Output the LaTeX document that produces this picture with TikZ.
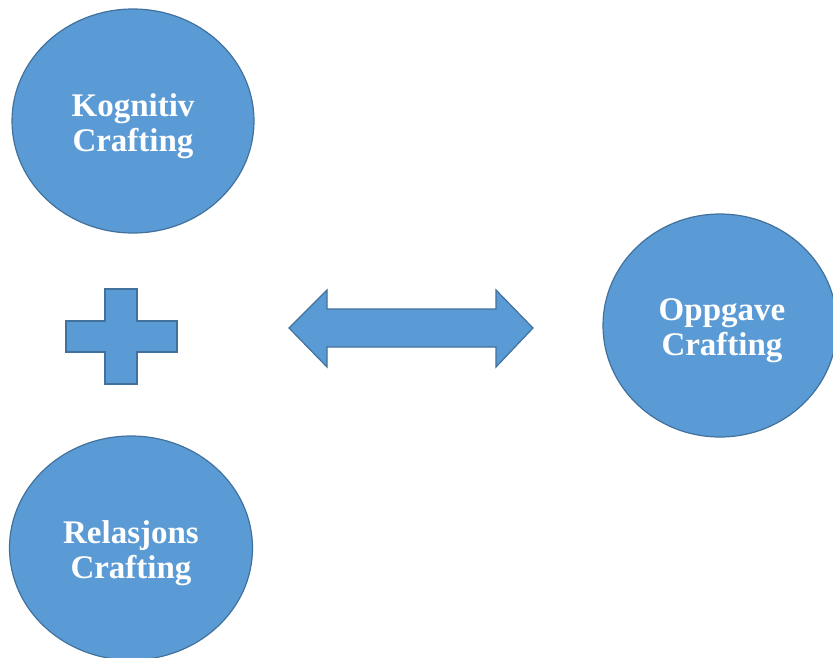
\documentclass[tikz,border=0pt]{standalone}
\usepackage{fontspec}
\setmainfont{Liberation Serif}
\usetikzlibrary{shapes.geometric}
\definecolor{shapefill}{HTML}{5B9BD5}
\definecolor{shapeline}{HTML}{41719C}
\begin{document}
\begin{tikzpicture}[x=1pt,y=-1pt,
  blob/.style={ellipse,fill=shapefill,draw=shapeline,line width=1.2pt,inner sep=0pt},
  shapestyle/.style={fill=shapefill,draw=shapeline,line width=1.2pt,line join=miter},
  lbl/.style={text=white,font=\bfseries\fontsize{33}{35}\selectfont,align=center}]
\useasboundingbox (0,0) rectangle (833,657);
\clip (0,0) rectangle (833,657);
% ellipses
\node[blob,minimum width=242pt,minimum height=224pt] (kog) at (133,121) {};
\node[blob,minimum width=234pt,minimum height=223pt] (opp) at (720,325.5) {};
\node[blob,minimum width=243pt,minimum height=224pt] (rel) at (131,548) {};
\node[lbl] (kogt) at ([yshift=-5pt]kog.center) {Kognitiv\\Crafting};
\node[lbl] (oppt) at ([xshift=2pt,yshift=-5pt]opp.center) {Oppgave\\Crafting};
\node[lbl] (relt) at ([yshift=-5pt]rel.center) {Relasjons\\Crafting};
% plus
\draw[shapestyle] (105,289) -- (137,289) -- (137,321) -- (177,321) -- (177,352) -- (137,352)
  -- (137,384) -- (105,384) -- (105,352) -- (66,352) -- (66,321) -- (105,321) -- cycle;
% double arrow
\draw[shapestyle] (289,328) -- (327,290) -- (327,309) -- (496,309) -- (496,290) -- (533,328)
  -- (496,367) -- (496,347) -- (327,347) -- (327,367) -- cycle;
\end{tikzpicture}
\end{document}
